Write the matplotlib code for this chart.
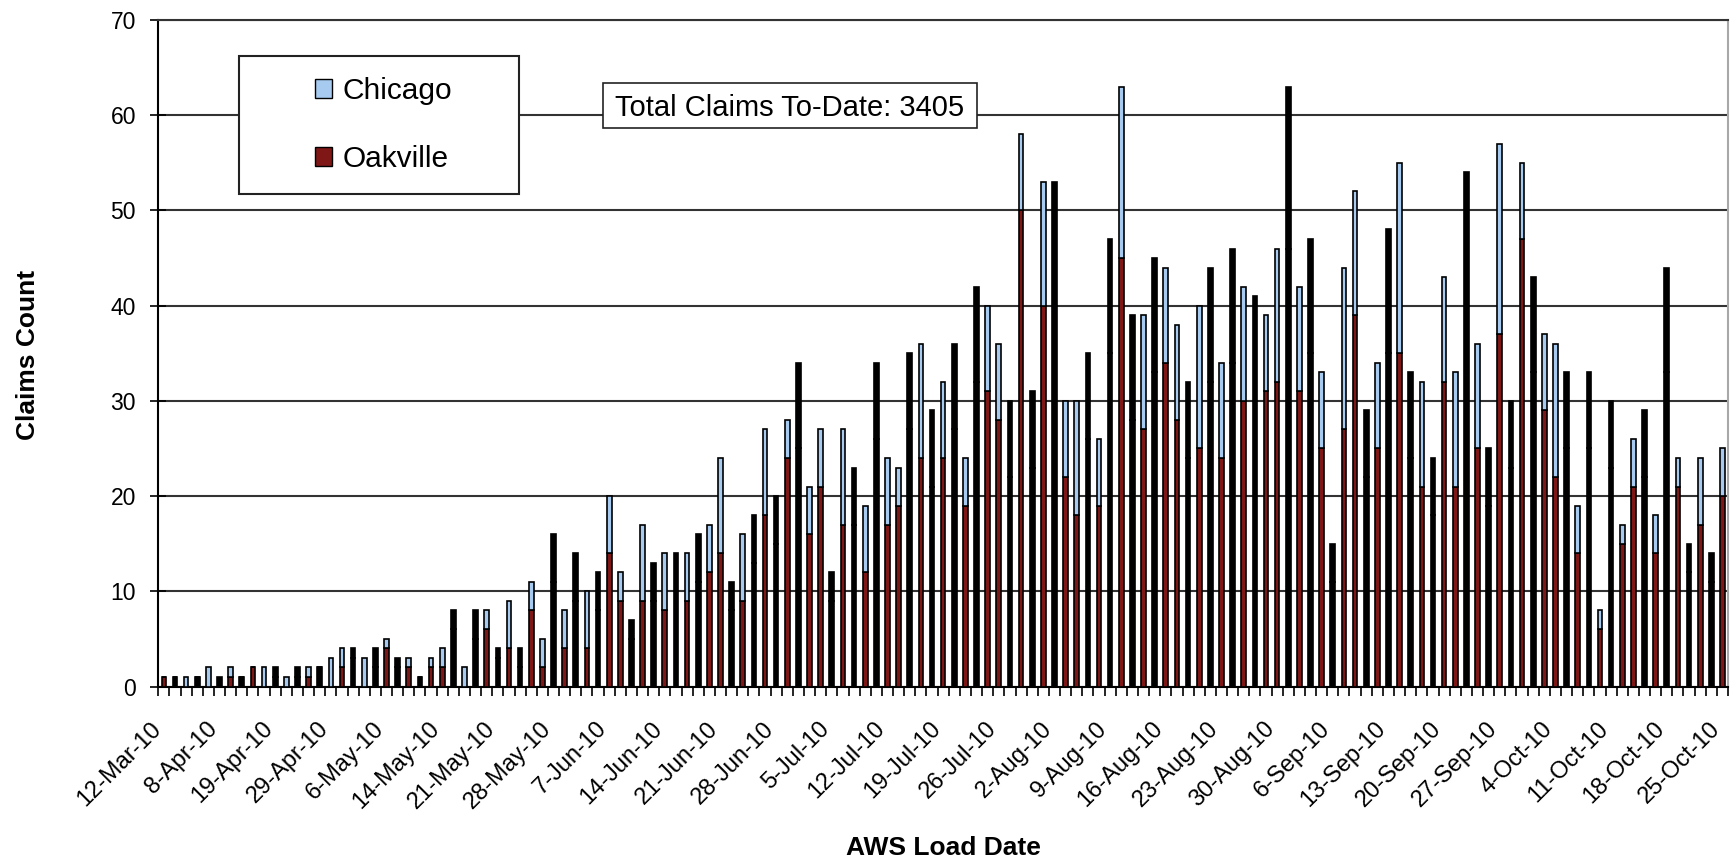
# -*- coding: utf-8 -*-
"""
Daily claims per AWS load date, stacked Oakville + Chicago (Excel-style column chart).
Writes out.png at 1730x864.
"""

import numpy as np
import matplotlib.pyplot as plt
from matplotlib.patches import Patch, Rectangle
from matplotlib.transforms import ScaledTranslation

plt.rcParams['font.family'] = ['Liberation Sans', 'DejaVu Sans']

# ── Data ──────────────────────────────────────────────────────────────────────
OAKVILLE = [
    1, 1, 0, 1, 0, 0, 1, 1, 2, 0,
    1, 0, 1, 1, 2, 0, 2, 3, 0, 2,
    4, 2, 2, 1, 2, 2, 6, 0, 5, 6,
    3, 4, 2, 8, 2, 11, 4, 9, 4, 8,
    14, 9, 5, 9, 9, 8, 10, 9, 11, 12,
    14, 8, 9, 13, 18, 15, 24, 25, 16, 21,
    9, 17, 17, 12, 26, 17, 19, 27, 24, 21,
    24, 27, 19, 32, 31, 28, 22, 50, 23, 40,
    40, 22, 18, 26, 19, 35, 45, 28, 27, 33,
    34, 28, 24, 25, 32, 24, 34, 30, 30, 31,
    32, 46, 31, 35, 25, 11, 27, 39, 22, 25,
    35, 35, 24, 21, 18, 32, 21, 40, 25, 19,
    37, 23, 47, 33, 29, 22, 25, 14, 25, 6,
    23, 15, 21, 22, 14, 33, 21, 12, 17, 11, 20,
]
CHICAGO = [
    0, 0, 1, 0, 2, 1, 1, 0, 0, 2,
    1, 1, 1, 1, 0, 3, 2, 1, 3, 2,
    1, 1, 1, 0, 1, 2, 2, 2, 3, 2,
    1, 5, 2, 3, 3, 5, 4, 5, 6, 4,
    6, 3, 2, 8, 4, 6, 4, 5, 5, 5,
    10, 3, 7, 5, 9, 5, 4, 9, 5, 6,
    3, 10, 6, 7, 8, 7, 4, 8, 12, 8,
    8, 9, 5, 10, 9, 8, 8, 8, 8, 13,
    13, 8, 12, 9, 7, 12, 18, 11, 12, 12,
    10, 10, 8, 15, 12, 10, 12, 12, 11, 8,
    14, 17, 11, 12, 8, 4, 17, 13, 7, 9,
    13, 20, 9, 11, 6, 11, 12, 14, 11, 6,
    20, 7, 8, 10, 8, 14, 8, 5, 8, 2,
    7, 2, 5, 7, 4, 11, 3, 3, 7, 3, 5,
]
TICK_LABELS = [
    '12-Mar-10', '8-Apr-10', '19-Apr-10', '29-Apr-10', '6-May-10',
    '14-May-10', '21-May-10', '28-May-10', '7-Jun-10', '14-Jun-10',
    '21-Jun-10', '28-Jun-10', '5-Jul-10', '12-Jul-10', '19-Jul-10',
    '26-Jul-10', '2-Aug-10', '9-Aug-10', '16-Aug-10', '23-Aug-10',
    '30-Aug-10', '6-Sep-10', '13-Sep-10', '20-Sep-10', '27-Sep-10',
    '4-Oct-10', '11-Oct-10', '18-Oct-10', '25-Oct-10',
]
LABEL_EVERY = 5          # one date label per 5 load dates
TOTAL_NOTE  = 'Total Claims To-Date: 3405'

# ── Style ─────────────────────────────────────────────────────────────────────
OAK_COLOR  = '#7f1717'
CHI_COLOR  = '#a6caf0'
GRID_COLOR = '#333333'
BAR_WIDTH  = 0.42
BAR_EDGE   = 1.2
W, H, DPI  = 1730, 864, 100


def px_rect(x0, y0, x1, y1):
    """Pixel box (top-left origin) -> figure fraction [left, bottom, width, height]."""
    return [x0 / W, 1 - y1 / H, (x1 - x0) / W, (y1 - y0) / H]


fig = plt.figure(figsize=(W / DPI, H / DPI), dpi=DPI)
ax = fig.add_axes(px_rect(158.3, 20, 1728, 686.5))

x = np.arange(len(OAKVILLE))
oak = np.array(OAKVILLE)
chi = np.array(CHICAGO)

# The source was rendered at low resolution: bars that snapped to 2 px lost
# their fill and show as solid black. Same regular pattern here.
solid = np.isin(x, np.floor(np.arange(70) * 2.275 + 1.11).astype(int))
oak_fc = ['black' if s else OAK_COLOR for s in solid]
chi_fc = ['black' if s else CHI_COLOR for s in solid]

ax.bar(x, oak, width=BAR_WIDTH, color=oak_fc, edgecolor='black',
       linewidth=BAR_EDGE, zorder=3)
ax.bar(x, chi, bottom=oak, width=BAR_WIDTH, color=chi_fc, edgecolor='black',
       linewidth=BAR_EDGE, zorder=3)

# ── Axes ──────────────────────────────────────────────────────────────────────
ax.set_xlim(-0.5, len(x) - 0.5)
ax.set_ylim(0, 70)
ax.set_yticks(range(0, 71, 10))
ax.yaxis.grid(True, color=GRID_COLOR, linewidth=1.5)
ax.set_axisbelow(True)

for side, col in [('left', 'black'), ('bottom', 'black'),
                  ('top', GRID_COLOR), ('right', '#a8a8a8')]:
    ax.spines[side].set_color(col)
    ax.spines[side].set_linewidth(1.5)

ax.set_xticks(x[::LABEL_EVERY], TICK_LABELS)
ax.set_xticks(np.arange(-0.5, len(x)), minor=True)
ax.tick_params(axis='x', which='major', length=0, pad=28, labelsize=17)
ax.tick_params(axis='x', which='minor', length=6.5, width=1.2, direction='out')
ax.tick_params(axis='y', direction='inout', length=11, width=1.2, pad=10.5, labelsize=16.5)

shift = ScaledTranslation(-6 / DPI, 0, fig.dpi_scale_trans)
for lab in ax.get_xticklabels():
    lab.set_rotation(45)
    lab.set_ha('right')
    lab.set_va('center')
    lab.set_rotation_mode('anchor')
    lab.set_transform(lab.get_transform() + shift)

fig.text(28 / W, 1 - 355 / H, 'Claims Count', rotation=90, ha='center', va='center',
         fontsize=19, fontweight='bold')
fig.text(943 / W, 1 - 855 / H, 'AWS Load Date', ha='center', va='baseline',
         fontsize=19, fontweight='bold')

# ── Legend box ────────────────────────────────────────────────────────────────
fig.add_artist(Rectangle(px_rect(239, 55.7, 519, 194)[:2], 280 / W, 138.3 / H,
                         transform=fig.transFigure, facecolor='white',
                         edgecolor='#222222', linewidth=1.5, zorder=5))
handles = [Patch(facecolor=CHI_COLOR, edgecolor='black', linewidth=1.0, label='Chicago'),
           Patch(facecolor=OAK_COLOR, edgecolor='black', linewidth=1.0, label='Oakville')]
leg = fig.legend(handles=handles, loc='center', bbox_to_anchor=(383.5 / W, 1 - 125 / H),
                 frameon=False, fontsize=21.5, handlelength=0.6, handleheight=0.6,
                 handletextpad=0.35, labelspacing=1.35, borderpad=0)
leg.set_zorder(6)

# ── Total note ────────────────────────────────────────────────────────────────
fig.add_artist(Rectangle(px_rect(603, 83, 977, 128)[:2], 374 / W, 45 / H,
                         transform=fig.transFigure, facecolor='white',
                         edgecolor='#222222', linewidth=1.2, zorder=5))
fig.text(790 / W, 1 - 116 / H, TOTAL_NOTE, ha='center', va='baseline',
         fontsize=21, zorder=7)

fig.savefig('out.png', dpi=DPI)
print(f'Total claims: {oak.sum() + chi.sum()}')
